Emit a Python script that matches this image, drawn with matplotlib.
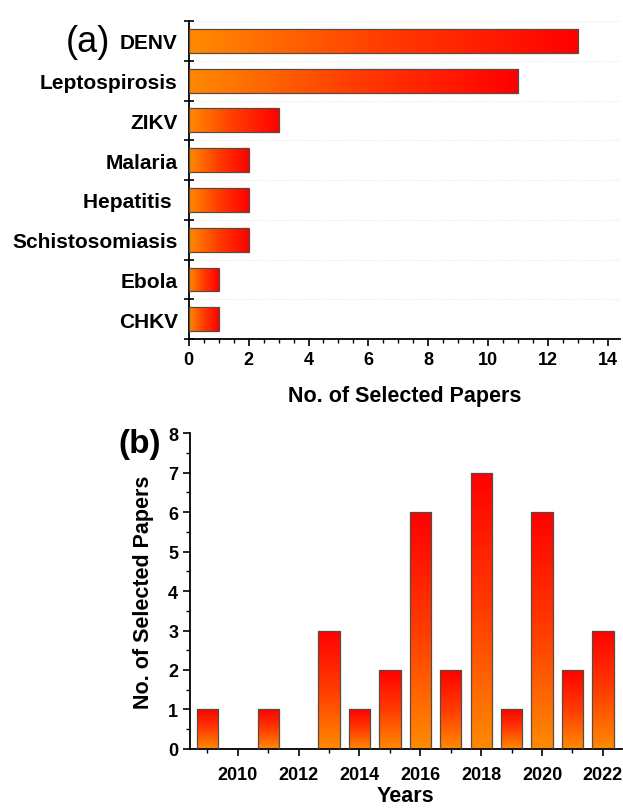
import numpy as np
import matplotlib
matplotlib.use("Agg")
import matplotlib.pyplot as plt
from matplotlib.colors import LinearSegmentedColormap
from matplotlib.ticker import MultipleLocator

plt.rcParams['font.family'] = ['Liberation Sans', 'DejaVu Sans']
plt.rcParams['font.weight'] = 'bold'

# panel (a) data
diseases = ['DENV', 'Leptospirosis', 'ZIKV', 'Malaria', 'Hepatitis ',
            'Schistosomiasis', 'Ebola', 'CHKV']
disease_counts = [13, 11, 3, 2, 2, 2, 1, 1]

# panel (b) data
years = [2009, 2010, 2011, 2012, 2013, 2014, 2015, 2016,
         2017, 2018, 2019, 2020, 2021, 2022]
year_counts = [1, 0, 1, 0, 3, 1, 2, 6, 2, 7, 1, 6, 2, 3]

grad = LinearSegmentedColormap.from_list('orred', ['#ff8a00', '#ff3c00', '#ff0000'])


def fill_gradient(ax, bars, horizontal):
    for b in bars:
        x0, y0 = b.get_x(), b.get_y()
        w, h = b.get_width(), b.get_height()
        if w == 0 or h == 0:
            continue
        if horizontal:
            img = np.linspace(0, 1, 256).reshape(1, -1)
        else:
            img = np.linspace(0, 1, 256).reshape(-1, 1)
        im = ax.imshow(img, cmap=grad, extent=[x0, x0 + w, y0, y0 + h],
                       origin='lower', aspect='auto', zorder=2,
                       interpolation='bilinear')
        im.set_clip_path(b)
        b.set_facecolor('none')
        b.set_zorder(3)


fig = plt.figure(figsize=(6.23, 8.12), dpi=100)

# ---- (a) horizontal bars
ax1 = fig.add_axes([0.303, 0.581, 0.692, 0.392])
pos = np.arange(len(diseases))
bars1 = ax1.barh(pos, disease_counts, height=0.6, edgecolor='#5a4a44', linewidth=0.9)
fill_gradient(ax1, bars1, horizontal=True)
ax1.set_xlim(0, 14.4)
ax1.set_ylim(len(diseases) - 0.5, -0.5)
ax1.set_yticks(pos)
ax1.set_yticklabels(diseases, fontsize=15, fontweight='bold')
ax1.tick_params(axis='y', length=0, pad=8)
ax1.set_yticks(np.arange(-0.5, len(diseases), 1), minor=True)
ax1.tick_params(axis='y', which='minor', direction='inout', length=7, width=1.2)
ax1.grid(axis='y', which='minor', color='#e6e6e6', linestyle=':', linewidth=0.8, zorder=0)
ax1.xaxis.set_major_locator(MultipleLocator(2))
ax1.xaxis.set_minor_locator(MultipleLocator(0.5))
ax1.tick_params(axis='x', which='major', direction='out', length=5, width=1.2, labelsize=13)
ax1.tick_params(axis='x', which='minor', direction='out', length=3, width=1)
ax1.set_xlabel('No. of Selected Papers', fontsize=15.5, fontweight='bold', labelpad=12)
for s in ['top', 'right']:
    ax1.spines[s].set_visible(False)
for s in ['left', 'bottom']:
    ax1.spines[s].set_linewidth(1.3)
fig.text(0.105, 0.948, '(a)', fontsize=26, fontweight='normal', ha='left', va='center')

# ---- (b) vertical bars
ax2 = fig.add_axes([0.305, 0.0764, 0.693, 0.389])
bars2 = ax2.bar(years, year_counts, width=0.7, edgecolor='#5a4a44', linewidth=0.9)
fill_gradient(ax2, bars2, horizontal=False)
ax2.set_xlim(2008.43, 2022.62)
ax2.set_ylim(0, 8)
ax2.xaxis.set_major_locator(MultipleLocator(2))
ax2.xaxis.set_minor_locator(MultipleLocator(1))
ax2.yaxis.set_major_locator(MultipleLocator(1))
ax2.yaxis.set_minor_locator(MultipleLocator(0.5))
ax2.tick_params(which='major', direction='out', length=5, width=1.2, labelsize=13)
ax2.tick_params(axis='x', which='major', pad=7)
ax2.tick_params(which='minor', direction='out', length=3, width=1)
ax2.set_xlabel('Years', fontsize=15.5, fontweight='bold', labelpad=2)
ax2.set_ylabel('No. of Selected Papers', fontsize=15.5, fontweight='bold', labelpad=10)
for s in ['top', 'right']:
    ax2.spines[s].set_visible(False)
for s in ['left', 'bottom']:
    ax2.spines[s].set_linewidth(1.3)
fig.text(0.19, 0.452, '(b)', fontsize=24, fontweight='bold', ha='left', va='center')

fig.savefig('out.png', dpi=100)
